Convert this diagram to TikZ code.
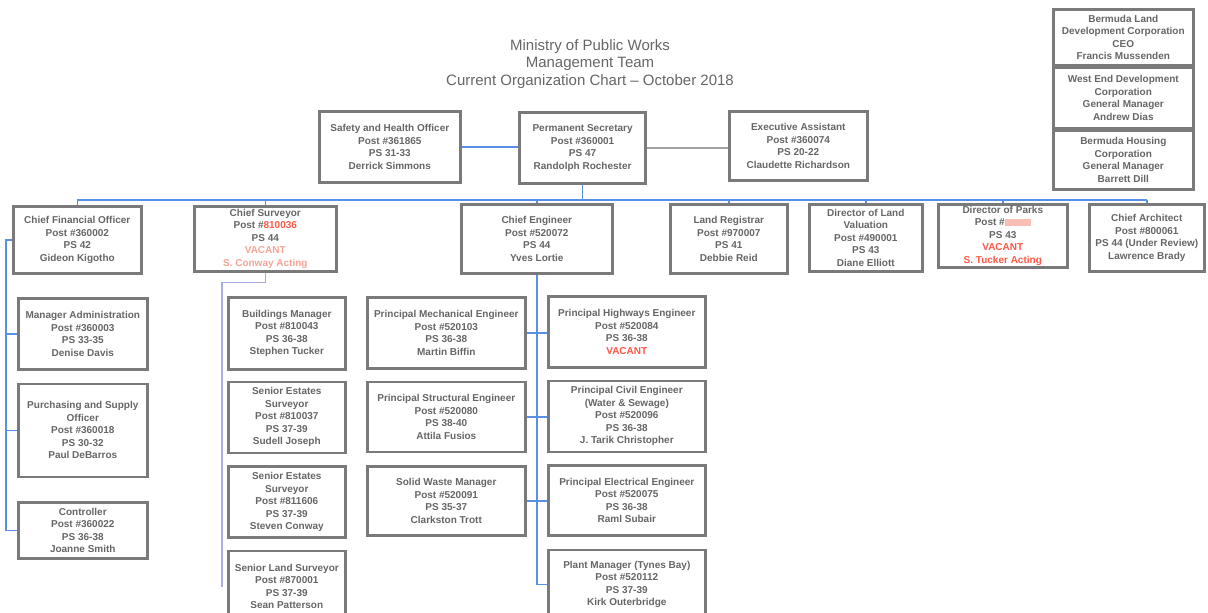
\documentclass[tikz,border=0pt]{standalone}
\usepackage{fontspec}
\setmainfont{Liberation Sans}
\usetikzlibrary{positioning}

\definecolor{boxgray}{HTML}{7A7A7A}
\definecolor{txtgray}{HTML}{666666}
\definecolor{linkblue}{HTML}{5A8FE6}
\definecolor{survblue}{HTML}{A9AEE0}
\definecolor{vacred}{HTML}{FF5747}
\definecolor{fadedred}{HTML}{F6A497}

\newcommand{\boxfont}{\fontsize{10}{12.5}\selectfont\bfseries}
\newcommand{\vac}[1]{\textcolor{vacred}{#1}}
\newcommand{\fvac}[1]{\textcolor{fadedred}{#1}}

\tikzset{
	post/.style={draw=boxgray, line width=2.6pt, fill=white, align=center, text=txtgray,
		font=\boxfont, inner sep=1pt, anchor=north west},
	link/.style={draw=linkblue, line width=1.6pt},
	survlink/.style={draw=survblue, line width=1.6pt},
	greylink/.style={draw=boxgray!70, line width=1.3pt},
	heading/.style={align=center, text=txtgray, font=\fontsize{15}{17.5}\selectfont}
}

\begin{document}
\begin{tikzpicture}[x=1pt, y=-1pt, node distance=11pt]
	\useasboundingbox (0,0) rectangle (1208,613);

	\node[heading]	(title)	at (590,64)	{Ministry of Public Works\\Management Team\\Current Organization Chart -- October 2018};

	\node[post, minimum width=140, minimum height=56]	(bldc)	at (1052,8)	{Bermuda Land\\Development Corporation\\CEO\\Francis Mussenden};
	\node[post, below=0pt of bldc, minimum width=140, minimum height=60]	(wedc)	{West End Development\\Corporation\\General Manager\\Andrew Dias};
	\node[post, below=0pt of wedc, minimum width=140, minimum height=59]	(bhc)	{Bermuda Housing\\Corporation\\General Manager\\Barrett Dill};

	\node[post, minimum width=141, minimum height=71]	(safety)	at (318,110)	{Safety and Health Officer\\Post \#361865\\PS 31-33\\Derrick Simmons};
	\node[post, line width=3.2pt, minimum width=126, minimum height=71]	(permsec)	at (518,111)	{Permanent Secretary\\Post \#360001\\PS 47\\Randolph Rochester};
	\node[post, minimum width=138, minimum height=69]	(execasst)	at (728,110)	{Executive Assistant\\Post \#360074\\PS 20-22\\Claudette Richardson};

	\node[post, minimum width=128, minimum height=67]	(cfo)	at (12,205)	{Chief Financial Officer\\Post \#360002\\PS 42\\Gideon Kigotho};
	\node[post, minimum width=142, minimum height=65]	(csurv)	at (193,205)	{Chief Surveyor\\Post \#\vac{810036}\\PS 44\\\fvac{VACANT}\\\fvac{S. Conway Acting}};
	\node[post, minimum width=151, minimum height=69]	(ceng)	at (460,203)	{Chief Engineer\\Post \#520072\\PS 44\\Yves Lortie};
	\node[post, minimum width=117, minimum height=69]	(landreg)	at (669,203)	{Land Registrar\\Post \#970007\\PS 41\\Debbie Reid};
	\node[post, minimum width=113, minimum height=67]	(landval)	at (808,203)	{Director of Land\\Valuation\\Post \#490001\\PS 43\\Diane Elliott};
	\node[post, minimum width=129, minimum height=63]	(parks)	at (937,203)	{Director of Parks\\Post \#\textcolor{fadedred!70}{\rule[-0.5pt]{26pt}{7.5pt}}\\PS 43\\\vac{VACANT}\\\vac{S. Tucker Acting}};
	\node[post, minimum width=115, minimum height=67]	(arch)	at (1088,203)	{Chief Architect\\Post \#800061\\PS 44 (Under Review)\\Lawrence Brady};

	\node[post, minimum width=129, minimum height=71]	(admin)	at (17,297)	{Manager Administration\\Post \#360003\\PS 33-35\\Denise Davis};
	\node[post, below=12pt of admin, minimum width=129, minimum height=93]	(purch)	{Purchasing and Supply\\Officer\\Post \#360018\\PS 30-32\\Paul DeBarros};
	\node[post, below=23pt of purch, minimum width=129, minimum height=56]	(ctrl)	{Controller\\Post \#360022\\PS 36-38\\Joanne Smith};

	\node[post, minimum width=117, minimum height=72]	(bldg)	at (227,296)	{Buildings Manager\\Post \#810043\\PS 36-38\\Stephen Tucker};
	\node[post, below=10pt of bldg, minimum width=117, minimum height=71]	(estate1)	{Senior Estates\\Surveyor\\Post \#810037\\PS 37-39\\Sudell Joseph};
	\node[post, below=of estate1, minimum width=117, minimum height=71]	(estate2)	{Senior Estates\\Surveyor\\Post \#811606\\PS 37-39\\Steven Conway};
	\node[post, below=of estate2, minimum width=117, minimum height=71]	(landsurv)	{Senior Land Surveyor\\Post \#870001\\PS 37-39\\Sean Patterson};

	\node[post, minimum width=158, minimum height=71]	(mech)	at (366,296)	{Principal Mechanical Engineer\\Post \#520103\\PS 36-38\\Martin Biffin};
	\node[post, below=of mech, minimum width=158, minimum height=70]	(struct)	{Principal Structural Engineer\\Post \#520080\\PS 38-40\\Attila Fusios};
	\node[post, below=12pt of struct, minimum width=158, minimum height=69]	(waste)	{Solid Waste Manager\\Post \#520091\\PS 35-37\\Clarkston Trott};

	\node[post, minimum width=157, minimum height=71]	(highway)	at (547,295)	{Principal Highways Engineer\\Post \#520084\\PS 36-38\\\vac{VACANT}};
	\node[post, below=of highway, minimum width=157, minimum height=71]	(civil)	{Principal Civil Engineer\\(Water \& Sewage)\\Post \#520096\\PS 36-38\\J. Tarik Christopher};
	\node[post, below=of civil, minimum width=157, minimum height=70]	(elec)	{Principal Electrical Engineer\\Post \#520075\\PS 36-38\\Raml Subair};
	\node[post, below=12pt of elec, minimum width=157, minimum height=69]	(plant)	{Plant Manager (Tynes Bay)\\Post \#520112\\PS 37-39\\Kirk Outerbridge};

	\coordinate	(bus)	at (0,200);
	\coordinate	(finbus)	at (6,0);
	\coordinate	(survbus)	at (222,0);

	\draw[link]	(safety.east) -- (safety.east -| permsec.west);
	\draw[greylink]	(permsec.east) -- (permsec.east -| execasst.west);
	\draw[link]	(permsec.south) -- (permsec.south |- bus);
	\draw[link]	(cfo.north |- bus) -- (arch.north |- bus);
	\foreach \n in {cfo, csurv, ceng, landreg, landval, parks, arch}
		\draw[link]	(\n.north |- bus) -- (\n.north);

	\draw[link]	(cfo.west) -| (finbus |- ctrl.west) -- (ctrl.west);
	\foreach \n in {admin, purch}
		\draw[link]	(finbus |- \n.west) -- (\n.west);

	\draw[survlink]	(csurv.south) -- ++(0,10) -| (survbus |- landsurv.west);

	\draw[link]	(ceng.south) -- (ceng.south |- plant.west) -- (plant.west);
	\draw[link]	(mech.east) -- (mech.east -| highway.west);
	\draw[link]	(struct.east) -- (struct.east -| civil.west);
	\draw[link]	(waste.east) -- (waste.east -| elec.west);

\end{tikzpicture}
\end{document}
